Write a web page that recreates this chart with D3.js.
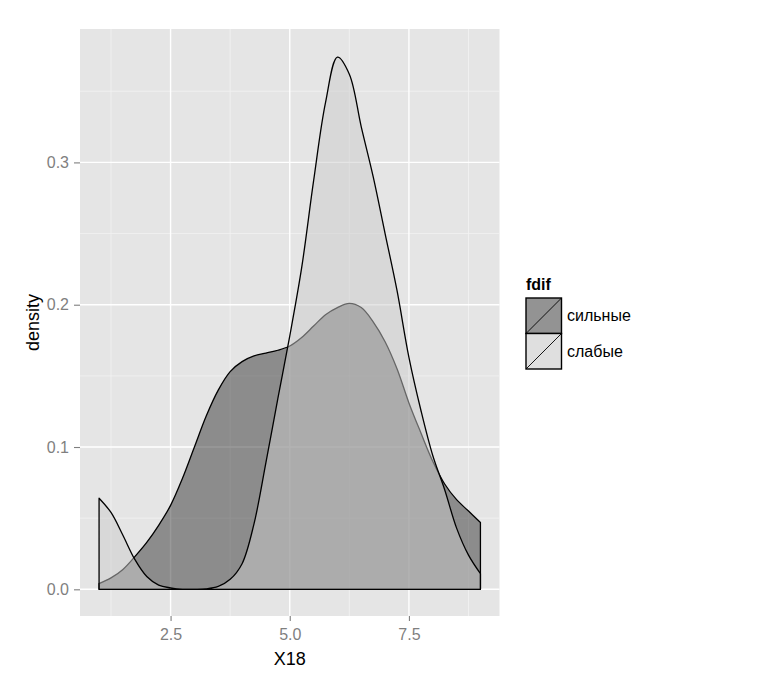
<!DOCTYPE html>
<html>
<head>
<meta charset="utf-8">
<script src="https://cdn.jsdelivr.net/npm/d3@7"></script>
<style>
  body { margin: 0; background: #fff; }
  svg { font-family: "Liberation Sans", Arial, sans-serif; }
</style>
</head>
<body>
<svg id="chart" width="766" height="686"></svg>
<script>
// density estimates, on a 0.25 grid from 1 to 9
const xGrid = d3.range(1, 9.001, 0.25);
const strongDensity = [
  0.004, 0.008, 0.014, 0.023, 0.033, 0.045, 0.059, 0.078, 0.100, 0.122, 0.140,
  0.153, 0.160, 0.164, 0.166, 0.168, 0.171, 0.177, 0.185, 0.193, 0.198, 0.201,
  0.198, 0.188, 0.174, 0.155, 0.131, 0.110, 0.090, 0.074, 0.063, 0.055, 0.047
];
const weakDensity = [
  0.064, 0.054, 0.038, 0.021, 0.009, 0.003, 0.001, 0.0, 0.0, 0.0003, 0.002,
  0.007, 0.018, 0.046, 0.089, 0.134, 0.178, 0.226, 0.287, 0.342, 0.374, 0.362,
  0.325, 0.290, 0.250, 0.210, 0.163, 0.126, 0.094, 0.070, 0.043, 0.024, 0.011
];
const groups = ["сильные", "слабые"];
const groupFill = ["#333333", "#cccccc"];
const xTicks = [2.5, 5, 7.5];
const xMinor = [1.25, 3.75, 6.25, 8.75];
const yTicks = [0, 0.1, 0.2, 0.3];
const yMinor = [0.05, 0.15, 0.25, 0.35];

const svg = d3.select("#chart");
const panel = {left: 80, right: 499.5, top: 29, bottom: 616};

// ggplot style 5% expansion
const x = d3.scaleLinear().domain([0.6, 9.4]).range([panel.left, panel.right]);
const y = d3.scaleLinear().domain([-0.01875, 0.39375]).range([panel.bottom, panel.top]);

svg.append("rect")
  .attr("x", panel.left).attr("y", panel.top)
  .attr("width", panel.right - panel.left).attr("height", panel.bottom - panel.top)
  .attr("fill", "#e5e5e5");

// grid
const grid = svg.append("g");
grid.selectAll(".vmin").data(xMinor).enter().append("line")
  .attr("x1", d => x(d)).attr("x2", d => x(d))
  .attr("y1", panel.top).attr("y2", panel.bottom)
  .attr("stroke", "#f2f2f2").attr("stroke-width", 0.8);
grid.selectAll(".hmin").data(yMinor).enter().append("line")
  .attr("y1", d => y(d)).attr("y2", d => y(d))
  .attr("x1", panel.left).attr("x2", panel.right)
  .attr("stroke", "#f2f2f2").attr("stroke-width", 0.8);
grid.selectAll(".vmaj").data(xTicks).enter().append("line")
  .attr("x1", d => x(d)).attr("x2", d => x(d))
  .attr("y1", panel.top).attr("y2", panel.bottom)
  .attr("stroke", "#fff").attr("stroke-width", 1.4);
grid.selectAll(".hmaj").data(yTicks).enter().append("line")
  .attr("y1", d => y(d)).attr("y2", d => y(d))
  .attr("x1", panel.left).attr("x2", panel.right)
  .attr("stroke", "#fff").attr("stroke-width", 1.4);

// densities
const series = [strongDensity, weakDensity];
const area = d3.area()
  .x((d, i) => x(xGrid[i]))
  .y0(y(0))
  .y1(d => y(d))
  .curve(d3.curveCatmullRom.alpha(0.5));

svg.selectAll(".dens").data(series).enter().append("path")
  .attr("d", area)
  .attr("fill", (d, i) => groupFill[i])
  .attr("fill-opacity", 0.5)
  .attr("stroke", "#000")
  .attr("stroke-width", 1.3)
  .attr("stroke-linejoin", "round");

// axes
const xAxis = d3.axisBottom(x).tickValues(xTicks).tickFormat(d3.format(".1f"))
  .tickSize(5).tickPadding(8);
const gx = svg.append("g").attr("transform", `translate(0,${panel.bottom})`).call(xAxis);
const yAxis = d3.axisLeft(y).tickValues(yTicks).tickFormat(d3.format(".1f"))
  .tickSize(6).tickPadding(5);
const gy = svg.append("g").attr("transform", `translate(${panel.left},0)`).call(yAxis);
[gx, gy].forEach(g => {
  g.select(".domain").remove();
  g.selectAll(".tick line").attr("stroke", "#7f7f7f").attr("stroke-width", 1.1);
  g.selectAll(".tick text").attr("fill", "#7f7f7f").style("font-size", "16px");
});

svg.append("text")
  .attr("x", (panel.left + panel.right) / 2).attr("y", 665)
  .attr("text-anchor", "middle").style("font-size", "18px")
  .text("X18");
svg.append("text")
  .attr("transform", `translate(39,${(panel.top + panel.bottom) / 2}) rotate(-90)`)
  .attr("text-anchor", "middle").style("font-size", "18px")
  .text("density");

// legend
const legend = svg.append("g").attr("transform", "translate(526,298)");
legend.append("text").attr("x", 0).attr("y", -8)
  .style("font-size", "16px").style("font-weight", "bold").text("fdif");
const key = legend.selectAll(".key").data(groups).enter().append("g")
  .attr("transform", (d, i) => `translate(0,${i * 35.5})`);
key.append("rect").attr("width", 35.5).attr("height", 35.5).attr("fill", "#f2f2f2");
key.append("rect").attr("width", 35.5).attr("height", 35.5)
  .attr("fill", (d, i) => groupFill[i]).attr("fill-opacity", 0.5)
  .attr("stroke", "#000").attr("stroke-width", 1.4);
key.append("line").attr("x1", 0).attr("y1", 35.5).attr("x2", 35.5).attr("y2", 0)
  .attr("stroke", "#000").attr("stroke-width", 0.9);
key.append("text").attr("x", 41).attr("y", 17.75).attr("dy", "0.35em")
  .style("font-size", "16px").text(d => d);
</script>
</body>
</html>
